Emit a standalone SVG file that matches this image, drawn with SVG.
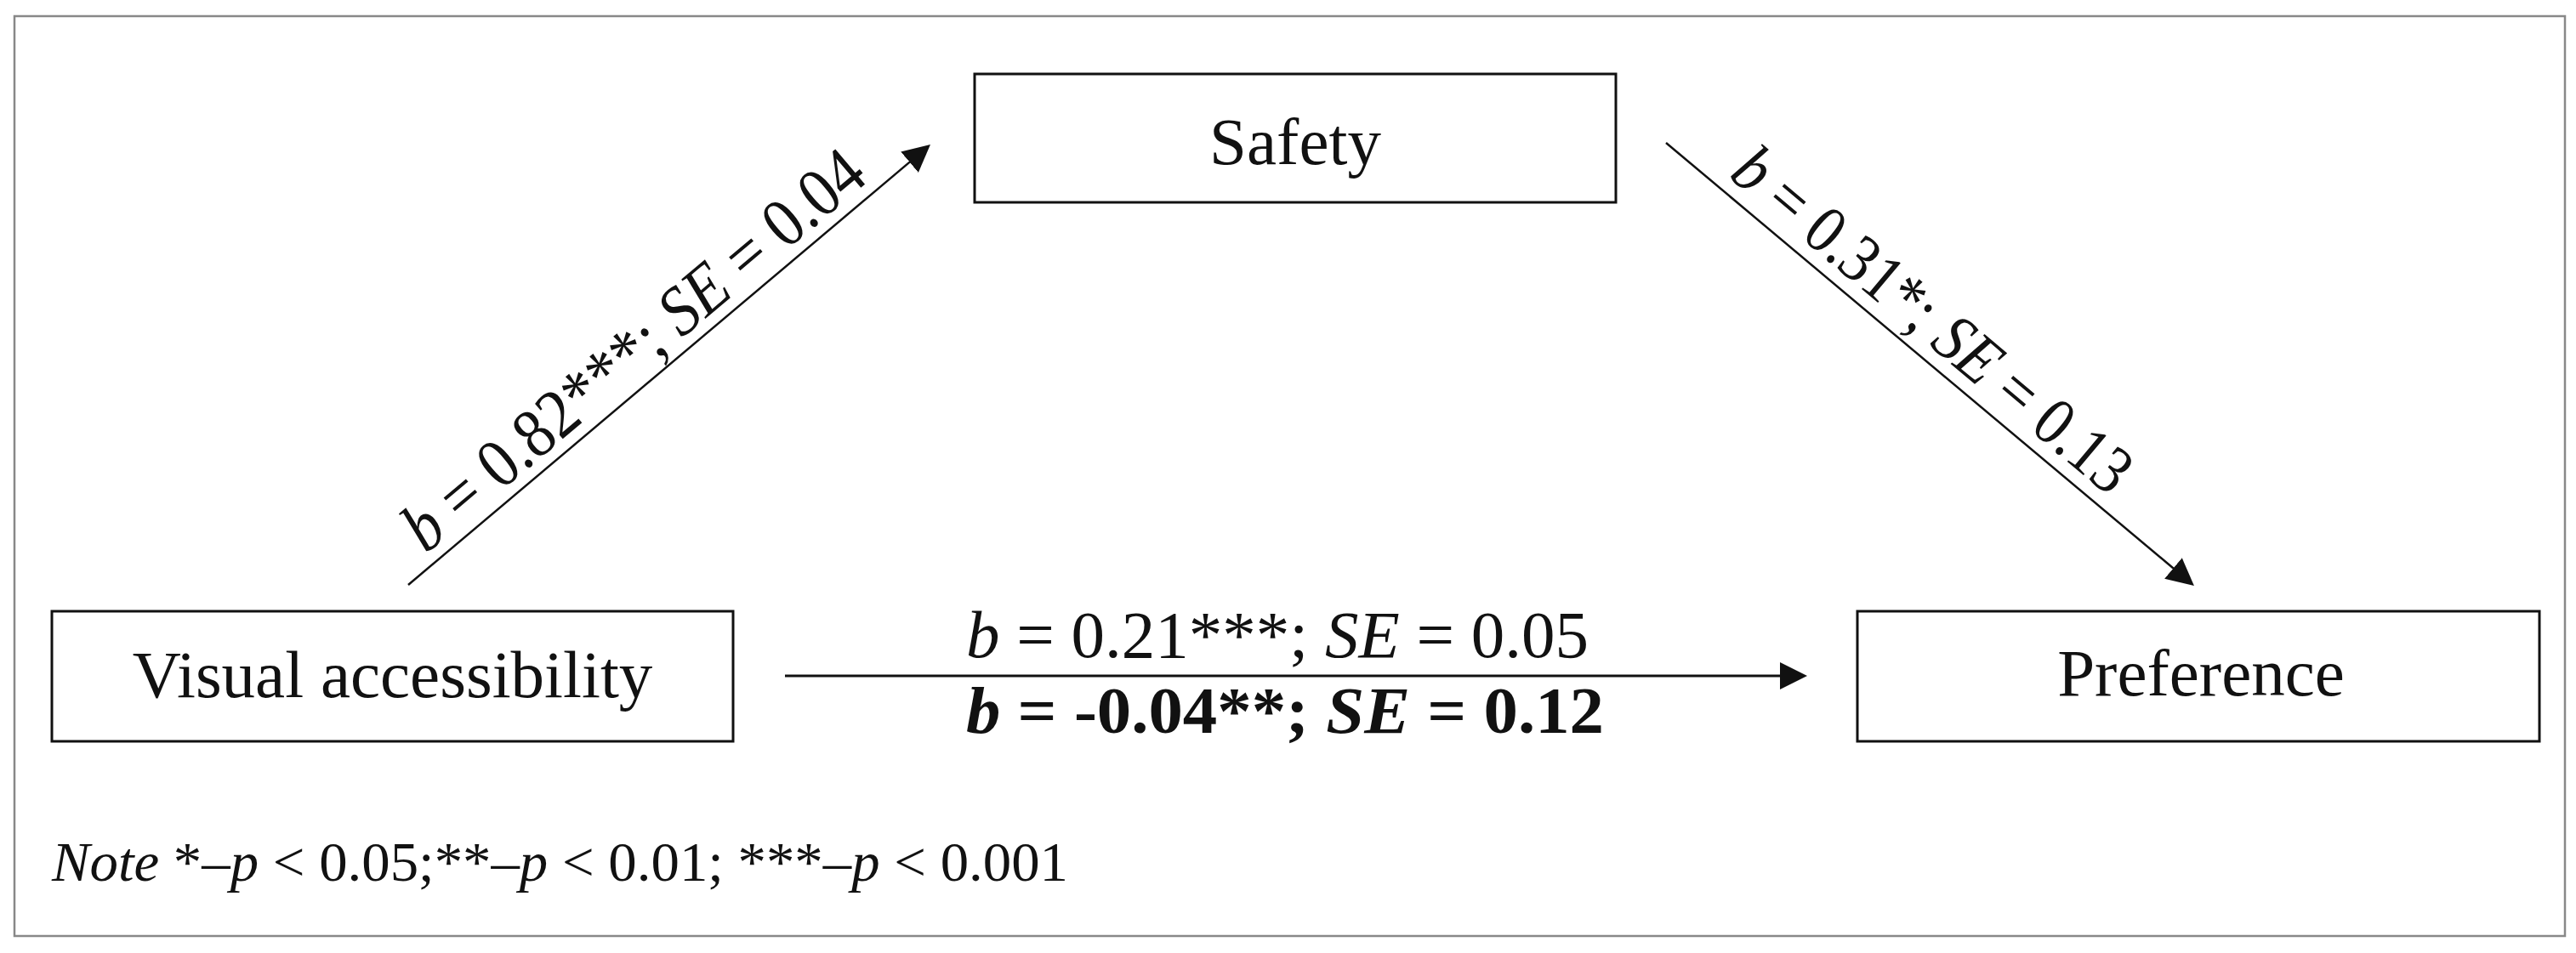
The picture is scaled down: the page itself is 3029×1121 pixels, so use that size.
<svg xmlns="http://www.w3.org/2000/svg" width="3029" height="1121" viewBox="0 0 3029 1121">
<style>
  .frame{fill:none;stroke:#888;stroke-width:2.5}
  .box{fill:#fff;stroke:#111;stroke-width:3}
  text{font-family:"Liberation Serif","Times New Roman",serif;fill:#111}
  .node{font-size:79px;text-anchor:middle}
  .edge{stroke:#111;fill:none}
  .diag{stroke-width:2.5}
  .horiz{stroke-width:3.2}
  .i{font-style:italic}
  .b{font-weight:bold}
</style>
<defs>
  <marker id="ah" markerUnits="userSpaceOnUse" viewBox="0 0 32 32" markerWidth="32" markerHeight="32" refX="4" refY="16" orient="auto">
    <path d="M0,0 L32,16 L0,32 z" fill="#111"/>
  </marker>
</defs>
<rect width="3029" height="1121" fill="#fff"/>
<rect class="frame" x="17" y="19" width="2999" height="1082"/>

<g id="connectors">
  <path class="edge diag" d="M480,688 L1072.6,188.1" marker-end="url(#ah)"/>
  <path class="edge diag" d="M1959,168 L2558.5,671" marker-end="url(#ah)"/>
  <path class="edge horiz" d="M923,795 L2097,795" marker-end="url(#ah)"/>
  <text font-size="82" x="500.8" y="652.1" textLength="683" lengthAdjust="spacingAndGlyphs" transform="rotate(-40.15 500.8 652.1)"><tspan class="i">b</tspan> = 0.82***; <tspan class="i">SE</tspan> = 0.04</text>
  <text font-size="80" x="2031.4" y="207.8" textLength="586" lengthAdjust="spacingAndGlyphs" transform="rotate(40 2031.4 207.8)"><tspan class="i">b</tspan> = 0.31*; <tspan class="i">SE</tspan> = 0.13</text>
  <text font-size="79" x="1136" y="773" textLength="732" lengthAdjust="spacingAndGlyphs"><tspan class="i">b</tspan> = 0.21***; <tspan class="i">SE</tspan> = 0.05</text>
  <text class="b" font-size="79" x="1136" y="862" textLength="750" lengthAdjust="spacingAndGlyphs"><tspan class="i">b</tspan> = -0.04**; <tspan class="i">SE</tspan> = 0.12</text>
</g>

<g id="node-safety">
  <rect class="box" x="1146" y="87" width="754" height="151"/>
  <text class="node" x="1523" y="193">Safety</text>
</g>
<g id="node-visual">
  <rect class="box" x="61" y="719" width="801" height="153"/>
  <text class="node" x="461.5" y="820">Visual accessibility</text>
</g>
<g id="node-preference">
  <rect class="box" x="2184" y="719" width="802" height="153"/>
  <text class="node" x="2588" y="818">Preference</text>
</g>

<text font-size="66" x="61" y="1036" textLength="1195" lengthAdjust="spacingAndGlyphs"><tspan class="i">Note</tspan> *–<tspan class="i">p</tspan> &lt; 0.05;**–<tspan class="i">p</tspan> &lt; 0.01; ***–<tspan class="i">p</tspan> &lt; 0.001</text>
</svg>
